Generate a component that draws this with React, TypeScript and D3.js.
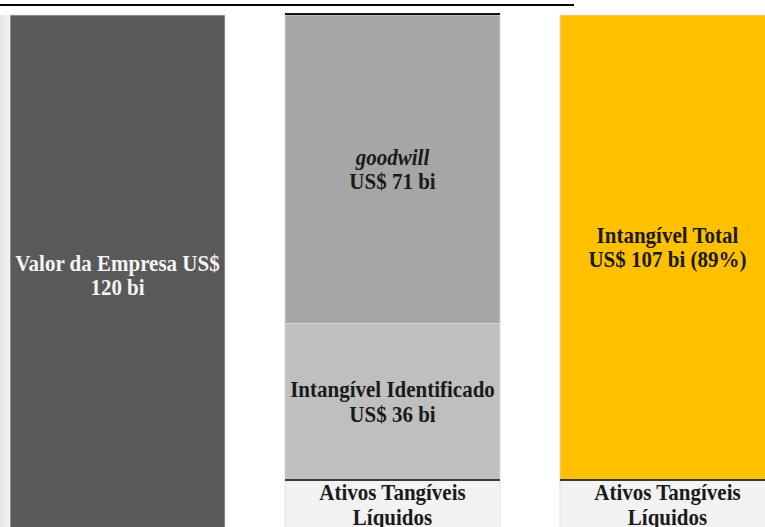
import React from "react";
import * as d3 from "d3";

const categories = ["empresa", "composicao", "intangivel"];
const bar1Values = [120];
const bar2Values = [13, 36, 71];
const bar3Values = [13, 107];
const bar1Labels = [["Valor da Empresa US$", "120 bi"]];
const bar2Labels = [["Ativos Tangíveis", "Líquidos"], ["Intangível Identificado", "US$ 36 bi"], ["goodwill", "US$ 71 bi"]];
const bar3Labels = [["Ativos Tangíveis", "Líquidos"], ["Intangível Total", "US$ 107 bi (89%)"]];

const W = 765;
const H = 527;

export default function App() {
  const x = d3.scaleBand<string>().domain(categories).range([10, 775]).paddingInner(0.218).paddingOuter(0);
  const y = d3.scaleLinear().domain([0, 107]).range([480, 15]);
  const bw = x.bandwidth();

  const bars = [
    { cat: categories[0], values: bar1Values, labels: bar1Labels, fills: ["#595959"], colors: ["#f4f4f4"], italic: [[false, false]] },
    { cat: categories[1], values: bar2Values, labels: bar2Labels, fills: ["#f2f2f2", "#bfbfbf", "#a6a6a6"], colors: ["#1a1a1a", "#1a1a1a", "#1a1a1a"], italic: [[false, false], [false, false], [true, false]] },
    { cat: categories[2], values: bar3Values, labels: bar3Labels, fills: ["#f2f2f2", "#ffc000"], colors: ["#1a1a1a", "#1a1a1a"], italic: [[false, false], [false, false]] },
  ];

  const yv = d3.scaleLinear().domain([0, 120]).range([y(-13), y(107)]);

  return (
    <div style={{ position: "fixed", left: 0, top: 0, width: W, height: H, background: "#fff" }}>
      <svg width={W} height={H} style={{ display: "block" }}>
        <defs>
          <linearGradient id="leftStrip" x1="0" x2="1" y1="0" y2="0">
            <stop offset="0" stopColor="#e4e4e4" />
            <stop offset="1" stopColor="#f4f4f4" />
          </linearGradient>
        </defs>
        <rect x={0} y={15} width={9} height={H - 15} fill="url(#leftStrip)" />
        <line x1={0} x2={574} y1={5} y2={5} stroke="#000" strokeWidth={2} />
        {bars.map((b, bi) => {
          const stack = d3.cumsum(b.values);
          const x0 = x(b.cat) as number;
          return (
            <g key={b.cat}>
              {b.values.map((v, i) => {
                const top = yv(stack[i]);
                const bot = yv(stack[i] - v);
                const isBase = b.values.length > 1 && i === 0;
                const cy = (top + bot) / 2 + (isBase ? -3 : 0);
                const lines = b.labels[i];
                const lh = bi === 2 && i === 1 ? 24 : 24.5;
                return (
                  <g key={i}>
                    <rect x={x0} y={top} width={bw} height={bot - top} fill={b.fills[i]} stroke="#dcdcdc" strokeWidth={0.8} />
                    {lines.map((t, li) => {
                      const ty = cy + (li - (lines.length - 1) / 2) * lh + 7.5;
                      return (
                        <text
                          key={li}
                          x={x0 + bw / 2}
                          y={ty}
                          textAnchor="middle"
                          transform={`translate(0,${ty}) scale(1,1.08) translate(0,${-ty})`}
                          fontFamily="'Liberation Serif', 'Times New Roman', serif"
                          fontWeight="bold"
                          fontStyle={b.italic[i][li] ? "italic" : "normal"}
                          fontSize={21}
                          fill={b.colors[i]}
                        >
                          {t}
                        </text>
                      );
                    })}
                  </g>
                );
              })}
              {b.values.length > 1 && (
                <line x1={x0} x2={x0 + bw} y1={yv(stack[0])} y2={yv(stack[0])} stroke="#3a3a3a" strokeWidth={2} />
              )}
              {bi === 1 && (
                <line x1={x0} x2={x0 + bw} y1={yv(120) - 1} y2={yv(120) - 1} stroke="#111" strokeWidth={2} />
              )}
            </g>
          );
        })}
      </svg>
    </div>
  );
}
